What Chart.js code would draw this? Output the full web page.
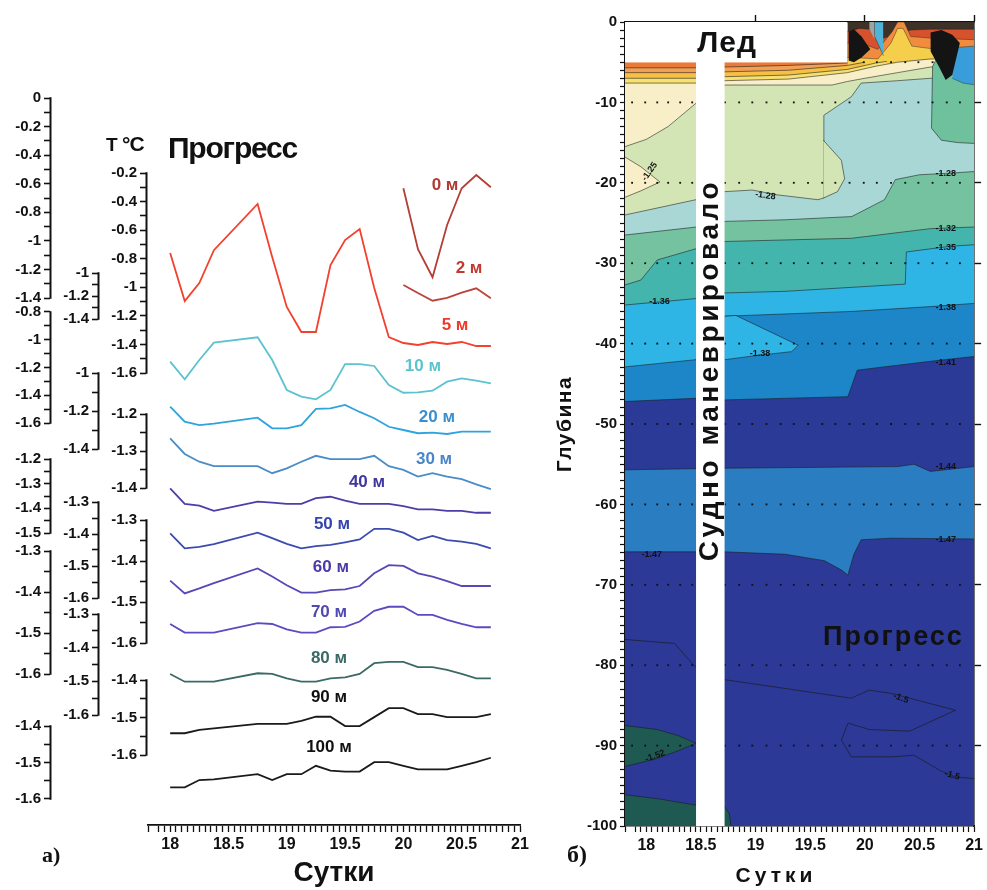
<!DOCTYPE html>
<html><head><meta charset="utf-8">
<script src="https://cdn.jsdelivr.net/npm/chart.js@4/dist/chart.umd.min.js"></script>
<style>
html,body{margin:0;padding:0;background:#fff;}
body{width:987px;height:890px;position:relative;overflow:hidden;}
#left{position:absolute;left:0;top:0;}
#right{position:absolute;left:545px;top:0;}
</style></head><body>
<canvas id="left" width="560" height="890"></canvas>
<canvas id="right" width="442" height="890"></canvas>
<script>
// ================= DATA: panel a) =================
const days = [18.0,18.125,18.25,18.375,18.5,18.625,18.75,18.875,19.0,19.125,19.25,19.375,19.5,19.625,19.75,19.875,20.0,20.125,20.25,20.375,20.5,20.625,20.75];
const depthNames = ['0 м','2 м','5 м','10 м','20 м','30 м','40 м','50 м','60 м','70 м','80 м','90 м','100 м'];
const N16 = [null,null,null,null,null,null,null,null,null,null,null,null,null,null,null,null];
const t0   = N16.concat([-0.632,-1.059,-1.255,-0.889,-0.632,-0.539,-0.625]);
const t2   = N16.concat([-1.104,-1.174,-1.241,-1.217,-1.170,-1.133,-1.220]);
const t5   = [-0.76,-1.096,-0.97,-0.74,null,null,-0.417,-0.788,-1.138,-1.313,-1.313,-0.844,-0.669,-0.592,-1.005,-1.348,-1.39,-1.404,-1.383,-1.397,-1.383,-1.411,-1.411];
const t10  = [-1.158,-1.285,-1.146,-1.021,null,null,-0.982,-1.146,-1.362,-1.410,-1.429,-1.362,-1.175,-1.175,-1.189,-1.326,-1.382,-1.380,-1.367,-1.302,-1.278,-1.295,-1.314];
const t20  = [-1.177,-1.256,-1.274,-1.267,null,null,-1.235,-1.291,-1.291,-1.274,-1.189,-1.186,-1.168,-1.205,-1.238,-1.283,-1.300,-1.317,-1.314,-1.321,-1.309,-1.309,-1.309];
const t30  = [-1.266,-1.308,-1.329,-1.341,null,null,-1.341,-1.360,-1.347,-1.329,-1.313,-1.322,-1.322,-1.322,-1.313,-1.341,-1.351,-1.369,-1.360,-1.369,-1.376,-1.390,-1.403];
const t40  = [-1.319,-1.382,-1.389,-1.410,null,null,-1.373,-1.377,-1.382,-1.382,-1.359,-1.353,-1.369,-1.382,-1.382,-1.382,-1.391,-1.404,-1.404,-1.410,-1.410,-1.418,-1.418];
const t50  = [-1.398,-1.445,-1.440,-1.432,null,null,-1.396,-1.413,-1.431,-1.445,-1.438,-1.434,-1.426,-1.417,-1.384,-1.384,-1.396,-1.419,-1.406,-1.419,-1.424,-1.431,-1.445];
const t60  = [-1.448,-1.479,-1.467,-1.454,null,null,-1.418,-1.438,-1.459,-1.477,-1.477,-1.471,-1.469,-1.461,-1.430,-1.410,-1.412,-1.430,-1.438,-1.449,-1.461,-1.461,-1.461];
const t70  = [-1.478,-1.499,-1.499,-1.499,null,null,-1.476,-1.478,-1.491,-1.499,-1.499,-1.486,-1.485,-1.472,-1.446,-1.436,-1.436,-1.456,-1.456,-1.468,-1.478,-1.486,-1.486];
const t80  = [-1.478,-1.501,-1.501,-1.501,null,null,-1.476,-1.478,-1.491,-1.501,-1.501,-1.491,-1.488,-1.478,-1.446,-1.442,-1.442,-1.458,-1.458,-1.466,-1.478,-1.491,-1.491];
const t90  = [-1.542,-1.542,-1.533,-1.529,null,null,-1.517,-1.517,-1.517,-1.509,-1.498,-1.498,-1.523,-1.523,-1.499,-1.475,-1.475,-1.491,-1.491,-1.499,-1.499,-1.499,-1.491];
const t100 = [-1.568,-1.568,-1.548,-1.546,null,null,-1.532,-1.548,-1.532,-1.532,-1.509,-1.522,-1.525,-1.525,-1.499,-1.499,-1.509,-1.519,-1.519,-1.519,-1.509,-1.499,-1.487];
const seriesT = [t0,t2,t5,t10,t20,t30,t40,t50,t60,t70,t80,t90,t100];
// tick-label ranges of each series' own temperature axis
const axisTopVal = [0,-1,-0.2,-0.8,-1,-1.2,-1.2,-1.3,-1.3,-1.3,-1.3,-1.4,-1.4];
const axisBotVal = [-1.4,-1.4,-1.6,-1.6,-1.4,-1.4,-1.5,-1.6,-1.6,-1.6,-1.6,-1.6,-1.6];
const axisMajor  = [0.2,0.2,0.2,0.2,0.2,0.1,0.1,0.1,0.1,0.1,0.1,0.1,0.1];
// where each depth label sits (day, temperature on its axis)
const labelDay = [20.357,20.563,20.443,20.168,20.288,20.263,19.688,19.388,19.379,19.362,19.362,19.362,19.362];
const labelT   = [-0.609,-0.957,-1.264,-1.189,-1.232,-1.322,-1.293,-1.369,-1.415,-1.449,-1.431,-1.445,-1.458];

// ================= DATA: panel б) (contour bands, [day, depth]) =================
const TR_dark   = [[19.84,0],[21,0]];
const TR_red    = [[19.84,-1.2],[19.95,-0.8],[20.05,-0.9],[20.12,-2.2],[20.42,-1.0],[20.6,-0.9],[21,-0.9]];
const TR_orange = [[19.84,-2.6],[20.0,-2.8],[20.12,-3.4],[20.25,-1.2],[20.3,0],[20.36,0],[20.42,-1.8],[20.6,-2.0],[21,-2.2]];
const TR_yellow = [[19.84,-4.4],[20.0,-4.5],[20.12,-4.6],[20.24,-2.6],[20.3,-0.8],[20.35,-0.8],[20.43,-3.0],[20.6,-3.3],[21,-3.6]];
const B_orange  = [[17.805,-5],[19.84,-5]];
const B_orange2 = [[17.805,-5.7],[18.455,-5.7],[18.718,-5.6],[19.3,-5.4],[19.84,-5.1]];
const B_yellowOr= [[17.805,-6.3],[18.455,-6.3],[18.718,-6.2],[19.3,-6.0],[19.84,-5.4],[20.0,-5.0]];
const B_yellow  = [[17.805,-7.0],[18.455,-7.0],[18.718,-6.8],[19.3,-6.6],[19.84,-5.9],[20.1,-5.1],[20.2,-4.9]];
const B_cream   = [[17.805,-7.6],[18.455,-7.6],[18.718,-7.3],[19.3,-7.1],[19.84,-6.3],[20.1,-5.5],[20.3,-5.0],[20.6,-4.6],[21,-4.6]];
const B_lgreen  = [[17.805,-15.5],[18.0,-14.6],[18.2,-13.0],[18.455,-10.1],[18.718,-7.84],[19.7,-7.84],[19.84,-7.4],[20.0,-7.0],[20.3,-6.3],[20.6,-5.6],[21,-5.4]];
const P_creamTop= [[17.805,-16.8],[17.95,-18.0],[18.125,-19.9]];
const P_creamBot= [[17.805,-21.8],[17.95,-21.0],[18.125,-19.9]];
const B_lcyan   = [[17.805,-24.0],[18.455,-22.1],[18.718,-21.1],[18.97,-20.9],[19.2,-21.5],[19.57,-22.1],[19.62,-21.9],[19.625,-11.6],[19.876,-9.3],[19.966,-7.6],[20.3,-7.3],[20.6,-7.0],[21,-7.0]];
const P_lgTop   = [[19.62,-14.7],[19.785,-17.2],[19.815,-19.5]];
const P_lgBot   = [[19.62,-21.9],[19.75,-21.1],[19.815,-19.5]];
const P_grTop   = [[20.61,-13.2],[20.62,-5.5],[20.66,-4.5],[21,-4.5]];
const P_grBot   = [[20.61,-13.2],[20.7,-14.7],[20.85,-15.0],[21,-15.1]];
const B_green   = [[17.805,-26.5],[18.455,-25.5],[18.718,-24.8],[19.27,-24.6],[19.88,-24.2],[20.18,-22.1],[20.28,-19.6],[20.5,-19.0],[20.78,-18.8],[21,-18.6]];
const B_teal    = [[17.805,-32.7],[17.95,-32.1],[18.1,-29.6],[18.455,-28.2],[18.718,-27.3],[19.88,-26.9],[20.6,-25.7],[21,-25.5]];
const B_cyan    = [[17.805,-35.2],[18.455,-34.4],[18.718,-33.7],[19.27,-33.5],[20.37,-32.6],[20.38,-28.6],[20.78,-27.9],[21,-27.7]];
const B_blue    = [[17.805,-42.9],[18.455,-42.0],[18.718,-36.6],[19.88,-36.0],[20.6,-35.4],[21,-35.0]];
const P_tgTop   = [[18.718,-36.6],[18.82,-36.5],[19.39,-40.2]];
const P_tgBot   = [[18.718,-42.0],[19.0,-41.5],[19.33,-41.0],[19.39,-40.2]];
const B_navy    = [[17.805,-47.2],[18.455,-46.8],[18.718,-47.0],[19.845,-46.6],[19.93,-43.3],[20.6,-42.2],[21,-41.6]];
const B_mblue   = [[17.805,-55.7],[18.718,-55.5],[20.3,-55.3],[20.45,-55.0],[20.6,-55.9],[21,-55.3]];
const B_navy2   = [[17.805,-65.9],[18.718,-65.9],[19.27,-66.2],[19.63,-67.0],[19.79,-68.2],[19.845,-68.8],[19.9,-66.2],[19.966,-64.4],[20.24,-64.2],[21,-64.3]];
const P_lensTop = [[17.805,-87.5],[18.1,-88.0],[18.3,-88.8],[18.455,-89.7]];
const P_lensBot = [[17.805,-92.6],[18.1,-91.6],[18.3,-90.6],[18.455,-89.7]];
const B_dgreen  = [[17.805,-96.1],[18.1,-96.6],[18.455,-97.4],[18.718,-97.6],[18.76,-98.5],[18.775,-100]];
const P_greyTop = [[20.04,0],[20.09,0]];
const P_greyBot = [[20.04,-0.8],[20.09,-2.2]];
const P_cyTop   = [[20.09,0],[20.17,0]];
const P_cyBot   = [[20.09,-1.8],[20.17,-4.2]];
const P_buTop   = [[20.8,-3.2],[21,-3.0]];
const P_buBot   = [[20.8,-7.0],[20.9,-7.6],[21,-7.8]];
const P_bk1Top  = [[19.85,-1.2],[19.9,-0.9],[19.97,-1.8],[20.05,-3.4]];
const P_bk1Bot  = [[19.85,-4.8],[19.9,-5.0],[19.97,-4.4],[20.05,-3.4]];
const P_bk2Top  = [[20.6,-1.3],[20.7,-1.0],[20.8,-1.6],[20.87,-2.6]];
const P_bk2Bot  = [[20.6,-3.6],[20.68,-5.6],[20.74,-7.2],[20.8,-6.6],[20.87,-2.6]];
const C_line1   = [[17.805,-76.8],[18.26,-77.3],[18.42,-79.8],[18.455,-80.2]];
const C_line2   = [[18.718,-81.8],[19.876,-84.1],[20.04,-83.1],[20.24,-83.5],[20.83,-85.6],[20.41,-88.2],[20.04,-88.0],[19.846,-87.2],[19.785,-89.3],[19.876,-91.4],[20.24,-91.4],[20.45,-91.2],[20.69,-93.1],[20.83,-93.9],[21,-94.1]];
const stationDays   = [17.87,17.99,18.1,18.2,18.31,18.42,18.72,18.85,18.97,19.1,19.23,19.35,19.48,19.61,19.73,19.86,19.99,20.11,20.24,20.37,20.49,20.62,20.75,20.87];
const stationDepths = [-10,-20,-30,-40,-50,-60,-70,-80,-90];
const iceRow = -5;
const iceBox = [[17.805,0],[19.84,0]];
const maneuver = [[18.455,-4.9],[18.718,-4.9]];
const contourLabels = [[18.03,-18.6,'-1.25',-55],[19.09,-21.6,'-1.28',8],[20.74,-18.9,'-1.28',0],[20.74,-25.7,'-1.32',0],[20.74,-28.0,'-1.35',0],[18.12,-34.8,'-1.36',0],[20.74,-35.5,'-1.38',0],[19.04,-41.2,'-1.38',0],[20.74,-42.3,'-1.41',0],[20.74,-55.3,'-1.44',0],[20.74,-64.4,'-1.47',0],[18.05,-66.2,'-1.47',0],[20.33,-84.1,'-1.5',20],[20.8,-93.7,'-1.5',15],[18.08,-91.3,'-1.52',-20]];

// ================= STYLE / LAYOUT =================
const FONT = "'Liberation Sans', Arial, Helvetica, sans-serif";
const SERIF = "'Liberation Serif', 'Times New Roman', serif";
Chart.defaults.font.family = FONT;
Chart.defaults.color = '#111';
const lineColors  = ['#b43d36','#b9443a','#f2412d','#5cc3ce','#2ea3de','#4a8cc6','#4b3ea8','#3c4bb0','#5847b6','#5a4cc0','#3b6a66','#1a1a1a','#1a1a1a'];
const labelColors = ['#b03a33','#c23a2f','#ee3a2a','#5cc3ce','#3b8fd0','#4a86c8','#4036a0','#3545b0','#4a3ba8','#5048b5','#3b6a66','#111','#111'];
const axisTopPx = [98,273,173,312,373,414,459,502,520,551,614,680,726];
const axisBotPx = [298,319,373,423,449,488,533,598,643,674,715,755,799];
const axisCol   = [0,1,2,0,1,2,0,1,2,0,1,2,0];
const colPx     = [50,98,146];
const Y_TICK = 6, Y_LABEL_GAP = 3;
const L = {W:560,H:890,padL:148,padR:40,padT:20,xAxisH:65,xMin:17.81,xMax:21};
const areaT = L.padT, areaB = L.H - L.xAxisH, areaL = L.padL, areaR = L.W - L.padR;
const colVal = c => L.xMin + (colPx[c]-areaL)/(areaR-areaL)*(L.xMax-L.xMin);

function txt(ctx, s, x, y, font, color, align, base, ls, rot){
  ctx.save(); ctx.font = font; ctx.fillStyle = color; ctx.textAlign = align||'center'; ctx.textBaseline = base||'middle';
  try { ctx.letterSpacing = ls || '0px'; } catch(e) {}
  ctx.translate(x, y); if (rot) ctx.rotate(rot); ctx.fillText(s, 0, 0); ctx.restore();
}

// ================= PANEL a) =================
const leftScales = {
  x: {
    type:'linear', position:'bottom', min:L.xMin, max:L.xMax,
    ticks:{stepSize:0.05, autoSkip:false, maxRotation:0, padding:3, color:'#111', font:{size:16, weight:'bold'},
      callback:v=>{const r=Math.round(v*100)/100; const m=r*2; return Math.abs(m-Math.round(m))<1e-6 ? String(r) : '';}},
    grid:{drawOnChartArea:false, tickLength:7, tickColor:'#111', tickWidth:1.3},
    border:{display:true, color:'#111', width:1.8},
    title:{display:true, text:'Сутки', color:'#111', font:{size:28, weight:'bold'}, padding:{top:0,bottom:0}},
    afterFit:s=>{s.height = L.xAxisH;}
  }
};
seriesT.forEach((_, i) => {
  const k = (axisBotPx[i]-axisTopPx[i])/(axisTopVal[i]-axisBotVal[i]);
  leftScales['y'+i] = {
    type:'linear', position:{x: colVal(axisCol[i])},
    min: axisBotVal[i] - (areaB - axisBotPx[i])/k,
    max: axisTopVal[i] + (axisTopPx[i] - areaT)/k,
    ticks:{stepSize: axisMajor[i]/2, autoSkip:false, maxTicksLimit:1000, padding:Y_LABEL_GAP, color:'#111', font:{size:15, weight:'bold'},
      callback:v=>{const r=Math.round(v*1000)/1000; if (r>axisTopVal[i]+1e-9 || r<axisBotVal[i]-1e-9) return null;
        const m=r/axisMajor[i]; return Math.abs(m-Math.round(m))<1e-6 ? String(r) : '';}},
    grid:{drawOnChartArea:false, tickLength:Y_TICK, tickColor:'#111', tickWidth:1.6},
    border:{display:false}
  };
});
const leftDatasets = seriesT.map((vals, i) => ({
  label: depthNames[i], yAxisID:'y'+i,
  data: days.map((d, j) => ({x:d, y:vals[j]})),
  borderColor: lineColors[i], borderWidth: 1.8, pointRadius:0, spanGaps:true, tension:0, fill:false
}));
// keep the labels of the free-floating temperature axes clear of their tick marks
const labelGap = {
  id:'labelGap',
  beforeDraw(chart){
    seriesT.forEach((_, i) => {
      const s = chart.scales['y'+i];
      if (!s || s.$gapDone || typeof s.getLabelItems !== 'function') return;
      const items = s.getLabelItems();
      const axisPx = chart.scales.x.getPixelForValue(colVal(axisCol[i]));
      items.forEach(it => {
        const tr = it.options && it.options.translation;
        if (tr && tr[0] > axisPx - Y_TICK - 1) tr[0] = axisPx - Y_TICK - Y_LABEL_GAP;
      });
      s.$gapDone = true;
    });
  }
};
const leftDecor = {
  id:'leftDecor',
  afterDraw(chart){
    const ctx = chart.ctx, xs = chart.scales.x;
    seriesT.forEach((_, i) => {
      const ys = chart.scales['y'+i];
      const px = Math.round(xs.getPixelForValue(colVal(axisCol[i]))) + 0.5;
      ctx.save(); ctx.strokeStyle='#111'; ctx.lineWidth=2;
      ctx.beginPath(); ctx.moveTo(px, ys.getPixelForValue(axisTopVal[i])-0.8); ctx.lineTo(px, ys.getPixelForValue(axisBotVal[i])+0.8); ctx.stroke(); ctx.restore();
      txt(ctx, depthNames[i], xs.getPixelForValue(labelDay[i]), ys.getPixelForValue(labelT[i]), 'bold 17px '+FONT, labelColors[i]);
    });
    txt(ctx, 'T', 106, 151, 'bold 19px '+FONT, '#111', 'left', 'alphabetic');
    txt(ctx, '°C', 122, 151, 'bold 21px '+FONT, '#111', 'left', 'alphabetic', '-1px');
    txt(ctx, 'Прогресс', 168, 158, 'bold 30px '+FONT, '#111', 'left', 'alphabetic', '-1.2px');
    txt(ctx, 'а)', 42, 862, 'bold 22px '+SERIF, '#111', 'left', 'alphabetic');
  }
};
new Chart(document.getElementById('left'), {
  type:'line',
  data:{datasets:leftDatasets},
  options:{responsive:false, animation:false, events:[],
    layout:{padding:{left:L.padL, right:L.padR, top:L.padT, bottom:0}},
    plugins:{legend:{display:false}, tooltip:{enabled:false}},
    scales:leftScales},
  plugins:[labelGap, leftDecor]
});

// ================= PANEL б) =================
const R = {W:442,H:890,yAxisW:80,y2W:10,xAxisH:64,x2H:22,xMin:17.805,xMax:21};
const LINE = 'rgba(25,25,25,0.8)';
const rds = [];
let ord = 2000;
const P = a => a.map(p => ({x:p[0], y:p[1]}));
function layer(pts, color, bw){ rds.push({type:'line', data:P(pts), backgroundColor:color, borderColor:LINE, borderWidth:bw===undefined?0.7:bw, fill:{value:-100}, pointRadius:0, tension:0, order:ord--}); }
function pocket(top, bot, color, bw){ const i = rds.length; const w = bw===undefined?0.7:bw;
  rds.push({type:'line', data:P(top), backgroundColor:color, borderColor:LINE, borderWidth:w, fill:i+1, pointRadius:0, tension:0, order:ord--});
  rds.push({type:'line', data:P(bot), borderColor:LINE, borderWidth:w, fill:false, pointRadius:0, tension:0, order:ord--}); }
function cline(pts){ rds.push({type:'line', data:P(pts), borderColor:LINE, borderWidth:0.8, fill:false, pointRadius:0, tension:0, order:ord--}); }

layer(TR_dark,'#3e3128',0); layer(TR_red,'#d6522e',0.5); layer(TR_orange,'#ef8c3e',0.5); layer(TR_yellow,'#f5cf4b',0.5);
layer(B_orange,'#ea7a38',0); layer(B_orange2,'#f2a055'); layer(B_yellowOr,'#f5c045'); layer(B_yellow,'#f6e070');
layer(B_cream,'#f8eec8'); layer(B_lgreen,'#d4e5b5'); pocket(P_creamTop,P_creamBot,'#f8eec8');
layer(B_lcyan,'#a8d7d6'); pocket(P_lgTop,P_lgBot,'#d4e5b5'); pocket(P_grTop,P_grBot,'#6fc09d');
layer(B_green,'#74c29f'); layer(B_teal,'#44b5ad'); layer(B_cyan,'#2eb4e5'); layer(B_blue,'#1c86c9');
pocket(P_tgTop,P_tgBot,'#2eb4e5'); layer(B_navy,'#2b3a96'); layer(B_mblue,'#2a7dc0'); layer(B_navy2,'#2c3996');
pocket(P_lensTop,P_lensBot,'#1e5a52'); layer(B_dgreen,'#1e5a52');
pocket(P_greyTop,P_greyBot,'#9aa5a6',0); pocket(P_cyTop,P_cyBot,'#4fb4d8',0.5); pocket(P_buTop,P_buBot,'#3a9ddb',0.5);
pocket(P_bk1Top,P_bk1Bot,'#141414',0); pocket(P_bk2Top,P_bk2Bot,'#141414',0);
cline(C_line1); cline(C_line2);
const stationPts = [];
stationDepths.forEach(dp => stationDays.forEach(d => stationPts.push({x:d, y:dp})));
stationDays.filter(d => d > 19.9 && d < 20.7).forEach(d => stationPts.push({x:d, y:iceRow}));
rds.push({type:'scatter', data:stationPts, pointStyle:'rect', pointRadius:1.3, backgroundColor:'#111', borderWidth:0, order:ord--});
rds.push({type:'line', data:P(iceBox), backgroundColor:'#ffffff', borderWidth:0, fill:{value:-5}, pointRadius:0, order:ord--});
rds.push({type:'line', data:P(maneuver), backgroundColor:'#ffffff', borderWidth:0, fill:{value:-100}, pointRadius:0, order:ord--});

const rightDecor = {
  id:'rightDecor',
  afterDatasetsDraw(chart){
    const ctx = chart.ctx, xs = chart.scales.x, ys = chart.scales.y;
    contourLabels.forEach(c => txt(ctx, c[2], xs.getPixelForValue(c[0]), ys.getPixelForValue(c[1]), 'bold 9px '+FONT, '#111', 'center', 'middle', '0px', c[3]*Math.PI/180));
    txt(ctx, 'Лед', xs.getPixelForValue(18.739), ys.getPixelForValue(-2.74), 'bold 30px '+FONT, '#111', 'center', 'middle', '1px');
    txt(ctx, 'Судно маневрировало', xs.getPixelForValue(18.587), ys.getPixelForValue(-43.3), 'bold 28px '+FONT, '#111', 'center', 'middle', '3.5px', -Math.PI/2);
    txt(ctx, 'Прогресс', xs.getPixelForValue(20.262), ys.getPixelForValue(-76.5), 'bold 27px '+FONT, '#111', 'center', 'middle', '2px');
  },
  afterDraw(chart){
    const ctx = chart.ctx;
    txt(ctx, 'Сутки', 231, 876, 'bold 21px '+FONT, '#111', 'center', 'middle', '4px');
    txt(ctx, 'Глубина', 20, 424, 'bold 21px '+FONT, '#111', 'center', 'middle', '1.5px', -Math.PI/2);
    txt(ctx, 'б)', 22, 862, 'bold 24px '+SERIF, '#111', 'left', 'alphabetic');
  }
};
new Chart(document.getElementById('right'), {
  type:'line',
  data:{datasets:rds},
  options:{responsive:false, animation:false, events:[],
    layout:{padding:0},
    plugins:{legend:{display:false}, tooltip:{enabled:false}},
    scales:{
      x:{type:'linear', position:'bottom', min:R.xMin, max:R.xMax,
        ticks:{stepSize:0.05, autoSkip:false, maxRotation:0, padding:4, color:'#111', font:{size:16, weight:'bold'},
          callback:v=>{const r=Math.round(v*100)/100; const m=r*2; return Math.abs(m-Math.round(m))<1e-6 ? String(r) : '';}},
        grid:{drawOnChartArea:false, tickLength:6, tickColor:'#111', tickWidth:1.2},
        border:{display:true, color:'#111', width:1.6},
        afterFit:s=>{s.height = R.xAxisH;}},
      x2:{type:'linear', position:'top', min:R.xMin, max:R.xMax,
        ticks:{stepSize:1, autoSkip:false, callback:v=>{const r=Math.round(v*1000)/1000; return Number.isInteger(r) ? '' : null;}},
        grid:{drawOnChartArea:false, tickLength:7, tickColor:'#111', tickWidth:1.4},
        border:{display:true, color:'#111', width:1.6},
        afterFit:s=>{s.height = R.x2H;}},
      y:{type:'linear', position:'left', min:-100, max:0,
        ticks:{stepSize:1, autoSkip:false, maxTicksLimit:1000, padding:3, color:'#111', font:{size:15, weight:'bold'},
          callback:v=>{const r=Math.round(v); return r%10===0 ? String(r===0?0:r) : '';}},
        grid:{drawOnChartArea:false, tickLength:5, tickColor:'#111', tickWidth:1.2},
        border:{display:true, color:'#111', width:1.6},
        afterFit:s=>{s.width = R.yAxisW;}},
      y2:{type:'linear', position:'right', min:-100, max:0,
        ticks:{stepSize:10, autoSkip:false, callback:v=>{const r=Math.round(v); return (r===0||r===-100) ? null : '';}},
        grid:{drawOnChartArea:false, tickLength:7, tickColor:'#111', tickWidth:1.4},
        border:{display:true, color:'#111', width:1.6},
        afterFit:s=>{s.width = R.y2W;}}
    }},
  plugins:[rightDecor]
});
</script>
</body></html>
